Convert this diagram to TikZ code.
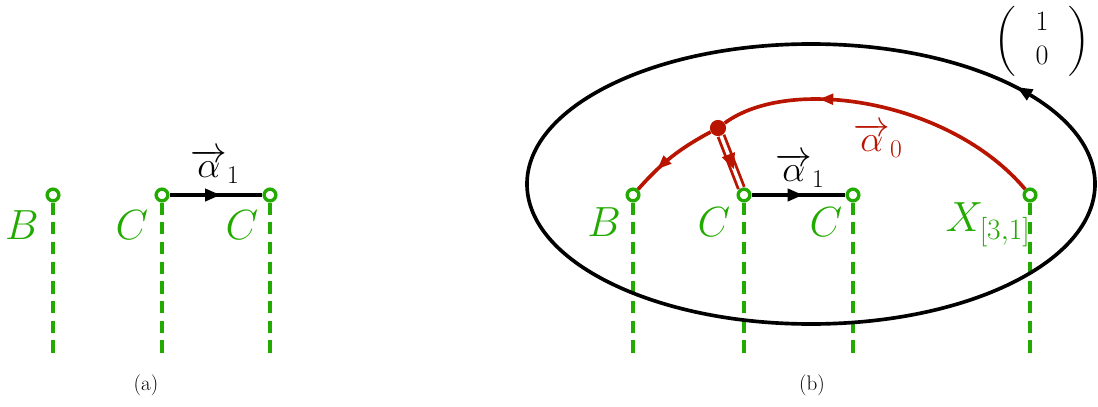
\RequirePackage{fix-cm}
\documentclass[tikz,border=0pt]{standalone}
\usepackage{amsmath}
\usetikzlibrary{positioning, arrows.meta, decorations.markings}
\definecolor{strandgreen}{HTML}{22AA00}
\definecolor{strandred}{HTML}{B81400}

\tikzset{
  endpt/.style={circle, draw=strandgreen, fill=white, line width=2.4pt,
                minimum size=8.3pt, inner sep=0pt},
  tail/.style={draw=strandgreen, line width=3pt, dash pattern=on 8.7pt off 5.3pt},
  lab/.style={text=strandgreen, font=\fontsize{30}{36}\selectfont},
  alab/.style={font=\fontsize{26}{30}\selectfont},
  capt/.style={font=\fontsize{15}{18}\selectfont},
  midarrow/.style={postaction={decorate, decoration={markings,
      mark=at position #1 with {\arrow{Triangle[length=11pt,width=8.5pt]}}}}},
  revarrow/.style={postaction={decorate, decoration={markings,
      mark=at position #1 with {\arrow{Triangle[reversed,length=11pt,width=8.5pt]}}}}},
  redarrow/.style={postaction={decorate, decoration={markings,
      mark=at position #1 with {\arrow{Triangle[length=10pt,width=7.5pt]}}}}},
  redtip/.style={postaction={decorate, decoration={markings,
      mark=at position #1 with {\fill[strandred] (5.5pt,0) -- (-5.5pt,5pt) -- (-5.5pt,-5pt) -- cycle;}}}},
}

\begin{document}
\begin{tikzpicture}[x=0.025cm, y=-0.025cm]
  \useasboundingbox (0,0) rectangle (1098,407);

  % end points and their dashed tails
  \foreach \n/\x in {aB/53, aC/162, aD/270, bB/633, bC/744, bD/853, bX/1030} {
    \node[endpt] (\n) at (\x,195) {};
    \coordinate (\n-e) at (\x,355);
    \draw[tail] (\n) -- (\n-e);
  }

  % (a)
  \draw[line width=2.6pt, midarrow=0.55] (aC) -- (aD);
  \node[alab] (aal) at (215,166) {$\overrightarrow{\alpha}_1$};
  \node[lab] (aBl) at (22,225) {$B$};
  \node[lab] (aCl) at (132,225) {$C$};
  \node[lab] (aDl) at (242,225) {$C$};
  \node[capt] (capa) at (146,385) {(a)};

  % (b)
  \coordinate (E) at (811,184);
  \draw[line width=2.6pt, revarrow=0.916] (E) ellipse[x radius=284, y radius=140];
  \node[font=\fontsize{20}{24}\selectfont, inner sep=0pt] (vec) at (1042,41)
    {$\left(\hspace{14pt}\begin{matrix} 1\\ 0 \end{matrix}\hspace{14pt}\right)$};

  \node[circle, fill=strandred, minimum size=11.5pt, inner sep=0pt] (J) at (718,128) {};
  \draw[strandred, line width=2.6pt, redarrow=0.7]
    (bX) .. controls (950,100) and (790,75) .. (J);
  \draw[strandred, line width=2.6pt, redarrow=0.7] (J) to[bend right=10] (bB);
  \draw[strandred, line width=2pt, double=white, double distance=2.4pt] (J) -- (bC);
  \path[redtip=0.5] (J) -- (bC);
  \node[alab, text=strandred] (bal0) at (878,140) {$\overrightarrow{\alpha}_0$};

  \draw[line width=2.6pt, midarrow=0.55] (bC) -- (bD);
  \node[alab] (bal) at (800,170) {$\overrightarrow{\alpha}_1$};
  \node[lab] (bBl) at (604,222) {$B$};
  \node[lab] (bCl) at (714,222) {$C$};
  \node[lab] (bDl) at (826,222) {$C$};
  \node[lab] (bXl) at (988,225) {$X_{[3,1]}$};
  \node[capt] (capb) at (812,385) {(b)};
\end{tikzpicture}
\end{document}
